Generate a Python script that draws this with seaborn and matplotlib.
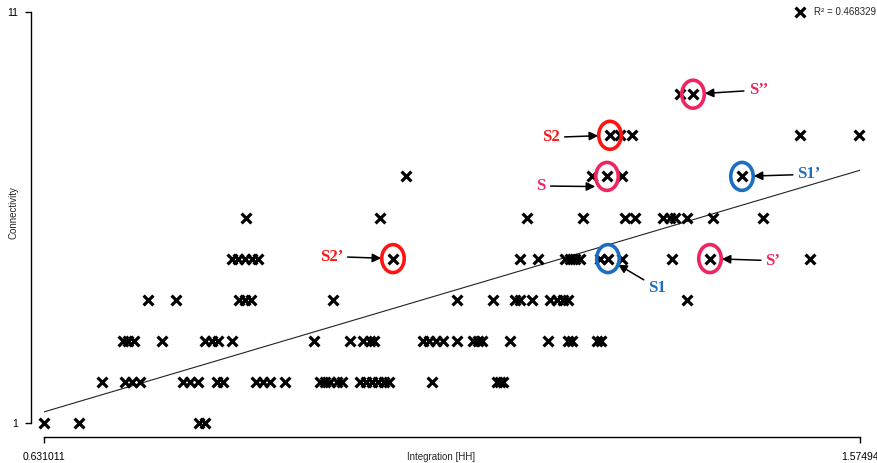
import numpy as np
import pandas as pd
import matplotlib
matplotlib.use("Agg")
import matplotlib.pyplot as plt
from matplotlib.patches import Ellipse
import seaborn as sns

# Integration [HH] values for each connectivity level
conn_1 = [0.6310, 0.6715, 0.8103, 0.8172]
conn_2 = [0.6981, 0.7247, 0.7328, 0.7421, 0.7918, 0.7999, 0.8091, 0.8311, 0.8381,
          0.8762, 0.8843, 0.8924, 0.9098, 0.9503, 0.9561, 0.9618, 0.9699, 0.9757,
          0.9966, 1.0035, 1.0104, 1.0174, 1.0243, 1.0301, 1.0798, 1.1550, 1.1585,
          1.1620]
conn_3 = [0.7224, 0.7282, 0.7351, 0.7675, 0.8172, 0.8253, 0.8323, 0.8485, 0.9433,
          0.9850, 1.0000, 1.0081, 1.0127, 1.0694, 1.0764, 1.0845, 1.0926, 1.1088,
          1.1273, 1.1331, 1.1377, 1.1701, 1.2140, 1.2372, 1.2418, 1.2707, 1.2753]
conn_4 = [0.7513, 0.7837, 0.8566, 0.8635, 0.8705, 0.9653, 1.1088, 1.1504, 1.1759,
          1.1816, 1.1955, 1.2163, 1.2244, 1.2314, 1.2372, 1.3748]
conn_5 = [0.8485, 0.8554, 0.8635, 0.8716, 0.8786, 1.0347, 1.1816, 1.2025, 1.2337,
          1.2395, 1.2453, 1.2510, 1.2742, 1.2834, 1.2996, 1.3575, 1.4014, 1.5171]
conn_6 = [0.8647, 1.0197, 1.1897, 1.2545, 1.3031, 1.3147, 1.3471, 1.3552, 1.3609,
          1.3748, 1.4049, 1.4627]
conn_7 = [1.0498, 1.2649, 1.2823, 1.2996, 1.4384]
conn_8 = [1.2857, 1.2973, 1.3112, 1.5055, 1.5738]
conn_9 = [1.3667, 1.3818]

levels = [1, 2, 3, 4, 5, 6, 7, 8, 9]
rows = [conn_1, conn_2, conn_3, conn_4, conn_5, conn_6, conn_7, conn_8, conn_9]

x_min, x_max = 0.631011, 1.57494
y_min, y_max = 1, 11
x_tick_labels = ["0.631011", "1.57494"]
y_tick_labels = ["1", "11"]
r2_label = "R\u00b2 = 0.468329"

# Regression trend: connectivity at the two ends of the integration range
trend_x = [x_min, x_max]
trend_y = [1.27, 7.15]

# Highlighted spaces: label, colour, (integration, connectivity), text offset (pt), alignment
PINK, RED, BLUE = "#f0245e", "#ff1414", "#1b6ec2"
highlights = [
    ("S\u2019\u2019", PINK, (1.3818, 9), (40, 3), "left", 0.0),
    ("S2", RED, (1.2857, 8), (-36, -1.5), "right", 0.0),
    ("S", PINK, (1.2823, 7), (-44, 0.5), "right", -0.25),
    ("S1\u2019", BLUE, (1.4384, 7), (40, 1.5), "left", 0.0),
    ("S2\u2019", RED, (1.0347, 5), (-36, 1.5), "right", 0.0),
    ("S1", BLUE, (1.2834, 5), (29, -21), "left", 0.0),
    ("S\u2019", PINK, (1.4014, 5), (40, -1.5), "left", 0.0),
]

df = pd.DataFrame({
    "integration": [v for r in rows for v in r],
    "connectivity": [lvl for lvl, r in zip(levels, rows) for _ in r],
})

sns.set_style("ticks")
plt.rcParams["font.family"] = ["Liberation Sans", "DejaVu Sans"]

W, H = 877, 463
fig = plt.figure(figsize=(W / 100, H / 100), dpi=100)
ax = fig.add_axes([44 / W, 1 - 423 / H, (860 - 44) / W, (423 - 12) / H])

sns.scatterplot(data=df, x="integration", y="connectivity", marker="x", s=50,
                color="black", linewidth=2.3, clip_on=False, zorder=3, ax=ax,
                label=r2_label)

sns.lineplot(x=trend_x, y=trend_y, color="#222222", lw=0.8, zorder=2, ax=ax)

for label, color, (px, py), (dx, dy), ha, tip_dy in highlights:
    ax.add_patch(Ellipse((px, py), width=0.026, height=0.68, fill=False,
                         edgecolor=color, lw=2.6, zorder=4))
    ax.annotate(label, xy=(px, py + tip_dy), xytext=(dx, dy),
                textcoords="offset points", ha=ha, va="center",
                color=color, fontsize=12, fontweight="bold",
                family="Liberation Serif",
                arrowprops=dict(arrowstyle="-|>", color="black", lw=1.1,
                                mutation_scale=13, shrinkA=1, shrinkB=8.5))

ax.set_xlim(x_min, x_max)
ax.set_ylim(y_min, y_max)
ax.set_xticks([x_min, x_max])
ax.set_xticklabels(x_tick_labels)
ax.set_yticks([y_min, y_max])
ax.set_yticklabels(y_tick_labels)
ax.tick_params(axis="both", direction="out", length=4, width=1, colors="black",
               labelsize=7.5)
ax.tick_params(axis="x", pad=7)
ax.tick_params(axis="y", pad=5.5)
xt = ax.get_xticklabels()
xt[0].set_color("#3a6db5")
xt[1].set_color("#222222")
yt = ax.get_yticklabels()
yt[0].set_color("#3a6db5")
yt[1].set_color("#5a4a2a")

ax.set_xlabel("Integration [HH]", fontsize=7)
ax.set_ylabel("Connectivity", fontsize=7)
ax.xaxis.set_label_coords(0.4865, -0.083)
ax.xaxis.label.set_va("center")
ax.yaxis.set_label_coords(-0.0368, 0.511)
ax.yaxis.label.set_va("center")

sns.despine(ax=ax, offset={"left": 9.4, "bottom": 10})
for side in ("left", "bottom"):
    ax.spines[side].set_color("black")
    ax.spines[side].set_linewidth(1)

handles, labels = ax.get_legend_handles_labels()
ax.legend(handles[:1], labels[:1], loc="center left",
          bbox_to_anchor=(794 / W, 1 - 12 / H),
          bbox_transform=fig.transFigure, frameon=False, fontsize=7,
          handletextpad=0.75, borderpad=0, borderaxespad=0, handlelength=1.3,
          markerscale=1.0)

fig.savefig("out.png", dpi=100)
